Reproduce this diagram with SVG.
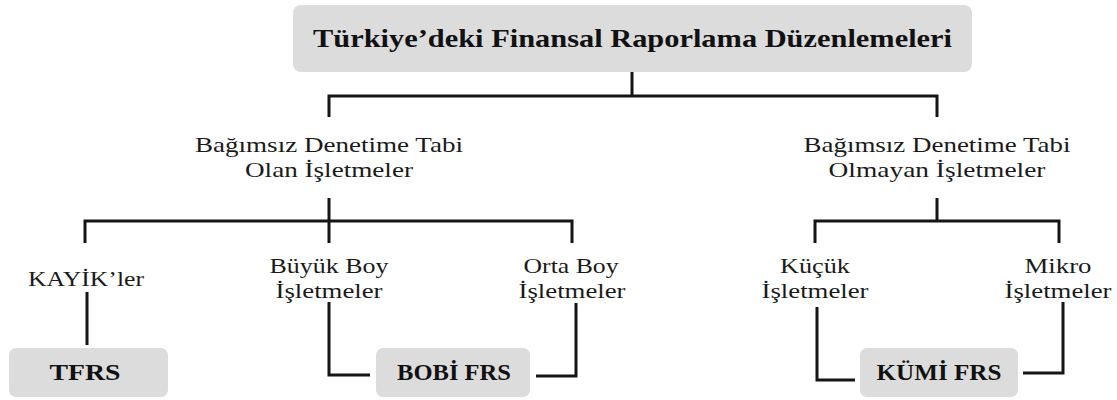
<svg xmlns="http://www.w3.org/2000/svg" width="1117" height="400" viewBox="0 0 1117 400">
<style>
.box{fill:#dcdcdc;}
.t{font-family:"Liberation Serif","Times New Roman",serif;font-size:22px;fill:#1a1a1a;text-anchor:middle;}
.b{font-family:"Liberation Serif","Times New Roman",serif;font-size:23px;font-weight:bold;fill:#111;text-anchor:middle;}
.c{fill:none;stroke:#151515;stroke-width:3;stroke-linejoin:miter;stroke-linecap:butt;}
</style>
<rect width="1117" height="400" fill="#ffffff"/>
<g id="connectors">
<path class="c" d="M632,72 V96"/>
<path class="c" d="M329,117 V96 H937 V117"/>
<path class="c" d="M329,198 V243"/>
<path class="c" d="M85,243 V221 H572 V243"/>
<path class="c" d="M937,198 V221"/>
<path class="c" d="M815,243 V221 H1059 V243"/>
<path class="c" d="M87,292 V345"/>
<path class="c" d="M329,302 V375 H370"/>
<path class="c" d="M536,376 H576 V303"/>
<path class="c" d="M817,307 V380 H855"/>
<path class="c" d="M1023,373 H1063 V302"/>
</g>
<g id="root">
<rect class="box" x="293" y="5" width="679" height="67" rx="8"/>
<text class="b" x="632.5" y="47" style="font-size:25px" textLength="639" lengthAdjust="spacingAndGlyphs">Türkiye’deki Finansal Raporlama Düzenlemeleri</text>
</g>
<g id="denetime-tabi">
<text class="t" x="329" y="152" textLength="268" lengthAdjust="spacingAndGlyphs">Bağımsız Denetime Tabi</text>
<text class="t" x="329" y="177" textLength="168" lengthAdjust="spacingAndGlyphs">Olan İşletmeler</text>
</g>
<g id="denetime-tabi-olmayan">
<text class="t" x="937" y="152" textLength="267" lengthAdjust="spacingAndGlyphs">Bağımsız Denetime Tabi</text>
<text class="t" x="937" y="177" textLength="217" lengthAdjust="spacingAndGlyphs">Olmayan İşletmeler</text>
</g>
<g id="kayik">
<text class="t" x="86" y="286" textLength="116" lengthAdjust="spacingAndGlyphs">KAYİK’ler</text>
</g>
<g id="buyuk">
<text class="t" x="329" y="273" textLength="119" lengthAdjust="spacingAndGlyphs">Büyük Boy</text>
<text class="t" x="329" y="298" textLength="107" lengthAdjust="spacingAndGlyphs">İşletmeler</text>
</g>
<g id="orta">
<text class="t" x="571" y="273" textLength="95" lengthAdjust="spacingAndGlyphs">Orta Boy</text>
<text class="t" x="572" y="298" textLength="107" lengthAdjust="spacingAndGlyphs">İşletmeler</text>
</g>
<g id="kucuk">
<text class="t" x="815" y="273" textLength="70" lengthAdjust="spacingAndGlyphs">Küçük</text>
<text class="t" x="815" y="298" textLength="107" lengthAdjust="spacingAndGlyphs">İşletmeler</text>
</g>
<g id="mikro">
<text class="t" x="1058" y="273" textLength="67" lengthAdjust="spacingAndGlyphs">Mikro</text>
<text class="t" x="1058" y="298" textLength="107" lengthAdjust="spacingAndGlyphs">İşletmeler</text>
</g>
<g id="tfrs">
<rect class="box" x="9" y="348" width="159" height="49" rx="7"/>
<text class="b" x="85" y="380" textLength="71" lengthAdjust="spacingAndGlyphs">TFRS</text>
</g>
<g id="bobi">
<rect class="box" x="376" y="348" width="154" height="49" rx="7"/>
<text class="b" x="454" y="380" textLength="114" lengthAdjust="spacingAndGlyphs">BOBİ FRS</text>
</g>
<g id="kumi">
<rect class="box" x="860" y="348" width="158" height="49" rx="7"/>
<text class="b" x="939" y="380" textLength="125" lengthAdjust="spacingAndGlyphs">KÜMİ FRS</text>
</g>
</svg>
